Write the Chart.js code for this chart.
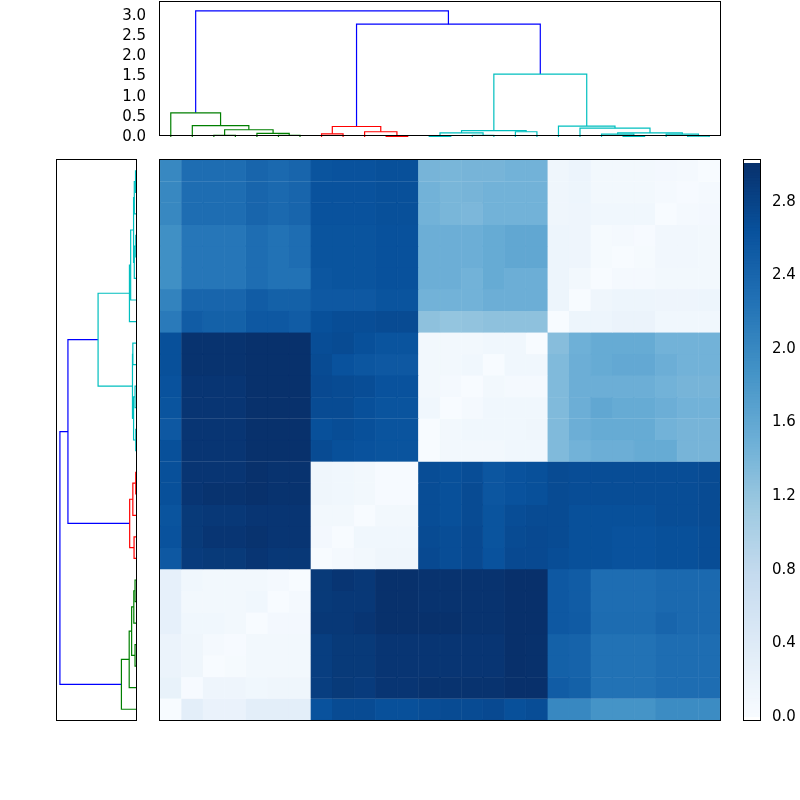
<!DOCTYPE html>
<html><head><meta charset="utf-8">
<script src="https://cdn.jsdelivr.net/npm/chart.js@4.4.0/dist/chart.umd.min.js"></script>
<style>
body{margin:0;background:#fff;width:800px;height:800px;position:relative;overflow:hidden;font-family:"DejaVu Sans";}
.c{position:absolute;}
.frame{position:absolute;border:1px solid #000;box-sizing:border-box;pointer-events:none;}
</style></head><body>
<div class="c" style="left:100px;top:-9px;width:630px;height:161px"><canvas id="top"></canvas></div>
<div class="c" style="left:57px;top:160px;width:79px;height:560px"><canvas id="left"></canvas></div>
<div class="c" style="left:160px;top:160px;width:560px;height:560px"><canvas id="heat"></canvas></div>
<div class="c" style="left:744px;top:150px;width:56px;height:580px"><canvas id="cbar"></canvas></div>
<div class="frame" style="left:159px;top:1px;width:562px;height:135px"></div>
<div class="frame" style="left:56px;top:159px;width:81px;height:562px"></div>
<div class="frame" style="left:159px;top:159px;width:562px;height:562px"></div>
<div class="frame" style="left:743px;top:159px;width:18px;height:562px"></div>
<script>
// ---- data ----
const columnLeaves = Array.from({length:26},(_,i)=>'L'+i);
const distances = [
[2.0,2.3,2.3,2.3,2.4,2.35,2.4, 2.6,2.62,2.62,2.65,2.65, 1.42,1.4,1.42,1.42,1.45,1.45, 0.12,0.16,0.08,0.08,0.08,0.06,0.04,0.0],
[2.0,2.3,2.3,2.3,2.4,2.35,2.4, 2.62,2.62,2.62,2.65,2.65, 1.45,1.4,1.42,1.45,1.45,1.45, 0.12,0.15,0.08,0.08,0.08,0.05,0.02,0.04],
[2.0,2.3,2.3,2.3,2.4,2.35,2.4, 2.62,2.62,2.62,2.65,2.65, 1.45,1.4,1.38,1.45,1.45,1.45, 0.12,0.14,0.1,0.1,0.1,0.0,0.05,0.06],
[1.9,2.2,2.2,2.2,2.3,2.25,2.3, 2.6,2.6,2.6,2.63,2.63, 1.5,1.5,1.5,1.55,1.6,1.6, 0.15,0.14,0.03,0.05,0.02,0.09,0.09,0.08],
[1.9,2.2,2.2,2.2,2.3,2.25,2.3, 2.6,2.6,2.6,2.63,2.63, 1.5,1.5,1.5,1.55,1.6,1.6, 0.15,0.14,0.03,0.0,0.03,0.09,0.09,0.08],
[1.9,2.2,2.2,2.2,2.3,2.25,2.25, 2.58,2.6,2.6,2.63,2.63, 1.5,1.5,1.45,1.55,1.5,1.5, 0.15,0.08,0.0,0.05,0.05,0.08,0.08,0.08],
[2.05,2.4,2.4,2.4,2.5,2.45,2.45, 2.55,2.55,2.55,2.6,2.6, 1.45,1.45,1.45,1.5,1.5,1.5, 0.15,0.0,0.12,0.15,0.15,0.13,0.13,0.15],
[2.15,2.5,2.45,2.45,2.55,2.55,2.5, 2.65,2.68,2.68,2.7,2.7, 1.25,1.2,1.22,1.25,1.25,1.25, 0.0,0.15,0.15,0.18,0.18,0.1,0.1,0.1],
[2.65,2.98,2.98,2.98,3.0,3.0,3.0, 2.68,2.7,2.65,2.6,2.6, 0.08,0.08,0.08,0.1,0.1,0.0, 1.3,1.48,1.55,1.55,1.55,1.45,1.45,1.45],
[2.65,2.98,2.98,2.98,3.0,3.0,3.0, 2.7,2.62,2.58,2.55,2.55, 0.08,0.08,0.1,0.0,0.1,0.1, 1.35,1.5,1.55,1.58,1.58,1.5,1.45,1.45],
[2.62,2.95,2.95,2.95,3.0,3.0,3.0, 2.72,2.7,2.68,2.62,2.62, 0.08,0.04,0.0,0.08,0.05,0.05, 1.35,1.5,1.5,1.5,1.5,1.45,1.42,1.42],
[2.6,2.95,2.95,2.95,3.0,3.0,3.0, 2.7,2.7,2.65,2.6,2.6, 0.1,0.0,0.05,0.1,0.1,0.1, 1.35,1.5,1.6,1.55,1.55,1.5,1.45,1.45],
[2.55,2.95,2.95,2.95,3.0,3.0,3.0, 2.65,2.68,2.65,2.6,2.6, 0.0,0.08,0.1,0.1,0.1,0.12, 1.35,1.5,1.55,1.55,1.55,1.45,1.42,1.42],
[2.65,2.95,2.95,2.95,3.0,3.0,3.0, 2.7,2.65,2.62,2.6,2.6, 0.0,0.08,0.08,0.08,0.1,0.1, 1.35,1.45,1.5,1.5,1.55,1.55,1.42,1.42],
[2.65,2.95,2.95,2.95,3.0,2.98,2.98, 0.12,0.1,0.08,0.02,0.02, 2.68,2.65,2.68,2.58,2.62,2.65, 2.7,2.68,2.68,2.68,2.68,2.68,2.68,2.7],
[2.65,2.95,2.98,2.98,3.0,2.98,2.98, 0.12,0.1,0.08,0.02,0.02, 2.68,2.65,2.7,2.58,2.62,2.65, 2.7,2.68,2.68,2.68,2.68,2.68,2.68,2.7],
[2.6,2.9,2.92,2.92,2.95,2.95,2.95, 0.08,0.08,0.0,0.08,0.08, 2.68,2.65,2.7,2.6,2.68,2.7, 2.7,2.65,2.65,2.65,2.65,2.68,2.68,2.7],
[2.62,2.9,2.95,2.95,2.98,2.95,2.95, 0.06,0.0,0.1,0.1,0.1, 2.7,2.68,2.72,2.6,2.7,2.72, 2.7,2.65,2.65,2.62,2.62,2.65,2.65,2.68],
[2.55,2.88,2.9,2.9,2.95,2.92,2.92, 0.0,0.05,0.08,0.12,0.12, 2.72,2.68,2.72,2.62,2.72,2.72, 2.68,2.65,2.65,2.62,2.62,2.65,2.65,2.68],
[0.25,0.1,0.08,0.08,0.08,0.05,0.0, 2.9,2.95,2.92,3.0,3.0, 2.98,2.98,2.98,2.98,3.01,3.01, 2.55,2.5,2.3,2.3,2.3,2.35,2.35,2.35],
[0.25,0.08,0.08,0.08,0.1,0.0,0.05, 2.9,2.92,2.92,3.0,3.0, 2.98,2.98,2.98,2.98,3.01,3.01, 2.55,2.5,2.3,2.3,2.3,2.35,2.35,2.35],
[0.25,0.1,0.1,0.08,0.0,0.06,0.06, 2.92,2.92,2.95,3.0,3.0, 3.0,3.0,2.98,2.98,3.01,3.01, 2.55,2.52,2.32,2.32,2.32,2.4,2.35,2.35],
[0.18,0.12,0.04,0.02,0.08,0.08,0.08, 2.85,2.9,2.9,2.95,2.95, 2.95,2.95,2.95,2.95,3.01,3.0, 2.45,2.42,2.25,2.25,2.25,2.3,2.3,2.3],
[0.18,0.12,0.0,0.03,0.08,0.08,0.08, 2.85,2.9,2.9,2.95,2.95, 2.95,2.95,2.95,2.95,3.01,3.0, 2.45,2.42,2.25,2.25,2.25,2.3,2.3,2.3],
[0.22,0.02,0.14,0.14,0.1,0.12,0.12, 2.85,2.9,2.88,2.95,2.95, 2.98,2.98,2.98,2.98,3.01,3.01, 2.5,2.45,2.25,2.25,2.25,2.3,2.3,2.3],
[0.0,0.3,0.2,0.2,0.3,0.3,0.3, 2.62,2.7,2.7,2.65,2.65, 2.68,2.7,2.7,2.72,2.65,2.68, 2.0,2.0,1.85,1.85,1.85,1.95,1.95,1.95]
];
// dendrogram links (scipy style): leaf i at 5+10i
const linkX = [
[25,25,35,35],[55,55,65,65],[45,45,60,60],[30,30,52.5,52.5],[15,15,41.25,41.25],[5,5,28.125,28.125],
[75,75,85,85],[105,105,115,115],[95,95,110,110],[80,80,102.5,102.5],
[125,125,135,135],[145,145,155,155],[130,130,150,150],[165,165,175,175],[140,140,170,170],
[215,215,225,225],[205,205,220,220],[245,245,255,255],[235,235,250,250],[212.5,212.5,242.5,242.5],
[195,195,227.5,227.5],[185,185,211.25,211.25],[155,155,198.125,198.125],
[91.25,91.25,176.5625,176.5625],[16.5625,16.5625,133.90625,133.90625]
];
const linkH = [
[0,0.04,0.04,0],[0,0.04,0.04,0],[0,0.09,0.09,0.04],[0.04,0.18,0.18,0.09],[0,0.28,0.28,0.18],[0,0.6,0.6,0.28],
[0,0.08,0.08,0],[0,0.01,0.01,0],[0,0.13,0.13,0.01],[0.08,0.26,0.26,0.13],
[0,0.01,0.01,0],[0,0.04,0.04,0],[0.01,0.1,0.1,0.04],[0,0.13,0.13,0],[0.1,0.16,0.16,0.13],
[0,0.01,0.01,0],[0,0.07,0.07,0.01],[0,0.02,0.02,0],[0,0.07,0.07,0.02],[0.07,0.1,0.1,0.07],
[0,0.22,0.22,0.1],[0,0.27,0.27,0.22],[0.16,1.56,1.56,0.27],
[0.26,2.8,2.8,1.56],[0.6,3.13,3.13,2.8]
];
const linkColor = ['g','g','g','g','g','g','r','r','r','r','c','c','c','c','c','c','c','c','c','c','c','c','c','b','b'];
const heightTicks = [0,0.5,1,1.5,2,2.5,3];
const colorbarTicks = [0,0.4,0.8,1.2,1.6,2.0,2.4,2.8];
const vmax = 3.01;

// ---- helpers ----
const palette = {g:'#007f00',r:'#ff0000',c:'#00bfbf',b:'#0000ff'};
const blues = ['#f7fbff','#deebf7','#c6dbef','#9ecae1','#6baed6','#4292c6','#2171b5','#08519c','#08306b'];
function hex(h){return [1,3,5].map(i=>parseInt(h.substr(i,2),16));}
function cmap(v){
  let t=Math.max(0,Math.min(1,v/vmax))*8; let i=Math.min(7,Math.floor(t)); let f=t-i;
  const a=hex(blues[i]),b=hex(blues[i+1]);
  return 'rgb('+a.map((x,k)=>Math.round(x+(b[k]-x)*f)).join(',')+')';
}
Chart.defaults.font.family='"DejaVu Sans"';
Chart.defaults.font.size=15;
Chart.defaults.color='#000';
Chart.defaults.animation=false;
Chart.defaults.devicePixelRatio=1;
const noLegend={legend:{display:false},tooltip:{enabled:false}};

// ---- top dendrogram ----
new Chart(document.getElementById('top'),{
  type:'scatter',
  data:{datasets:linkX.map((xs,i)=>({data:xs.map((x,k)=>({x:x,y:linkH[i][k]})),showLine:true,pointRadius:0,borderWidth:1.2,borderColor:palette[linkColor[i]]}))},
  options:{responsive:true,maintainAspectRatio:false,plugins:noLegend,
    layout:{padding:{top:2,bottom:15,right:10,left:0}},
    scales:{
      x:{type:'linear',min:0,max:260,display:false},
      y:{type:'linear',min:0,max:3.25,afterBuildTicks:a=>{a.ticks=heightTicks.map(v=>({value:v}));},
        afterFit:a=>{a.width=60;},
        ticks:{callback:v=>v.toFixed(1),padding:6},grid:{display:false},border:{display:false}}
    }}
});
// ---- left dendrogram ----
new Chart(document.getElementById('left'),{
  type:'scatter',
  data:{datasets:linkX.map((xs,i)=>({data:xs.map((x,k)=>({y:x,x:linkH[i][k]})),showLine:true,pointRadius:0,borderWidth:1.2,borderColor:palette[linkColor[i]]}))},
  options:{responsive:true,maintainAspectRatio:false,plugins:noLegend,layout:{padding:0},
    scales:{
      x:{type:'linear',min:0,max:3.25,reverse:true,display:false},
      y:{type:'linear',min:0,max:260,display:false}
    }}
});
// ---- heatmap ----
new Chart(document.getElementById('heat'),{
  type:'bar',
  data:{labels:columnLeaves,datasets:distances.map((row,r)=>({
    data:row.map(()=>[25-r,26-r]),backgroundColor:row.map(cmap),borderColor:row.map(cmap),borderWidth:0.6,
    grouped:false,barPercentage:1,categoryPercentage:1,borderSkipped:false}))},
  options:{responsive:true,maintainAspectRatio:false,plugins:noLegend,layout:{padding:0},
    scales:{x:{display:false},y:{display:false,min:0,max:26}}}
});
// ---- colorbar ----
const levels=[];for(let i=0;i<200;i++)levels.push(i*vmax/200);
new Chart(document.getElementById('cbar'),{
  type:'bar',
  data:{labels:['cb'],datasets:levels.map(v=>({data:[[v,v+vmax/200*1.5]],backgroundColor:cmap(v+vmax/400),borderWidth:0,grouped:false,barPercentage:1,categoryPercentage:1}))},
  options:{responsive:true,maintainAspectRatio:false,plugins:noLegend,layout:{padding:{top:10,bottom:10}},
    scales:{x:{display:false},
      y:{position:'right',min:0,max:vmax,afterBuildTicks:a=>{a.ticks=colorbarTicks.map(v=>({value:v}));},
        afterFit:a=>{a.width=40;},ticks:{callback:v=>v.toFixed(1),padding:4},grid:{display:false},border:{display:false}}}}
});
</script>
</body></html>
